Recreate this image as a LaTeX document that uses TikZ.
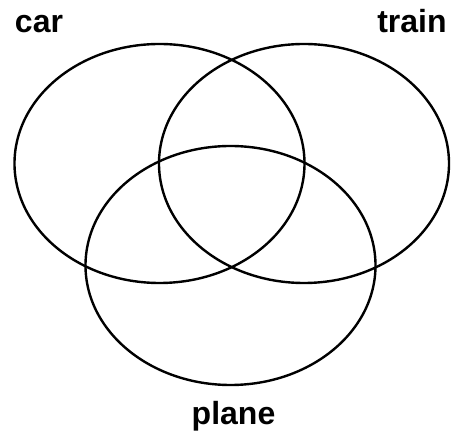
\documentclass[tikz,border=0pt]{standalone}
\usepackage{fontspec}
\setmainfont{Liberation Sans}

\begin{document}
\begin{tikzpicture}[x=1pt, y=1pt,
    setline/.style={black, line width=2.4pt},
    setlabel/.style={font=\fontsize{32}{38}\selectfont\bfseries, anchor=base, inner sep=0pt}]
    \useasboundingbox (0,0) rectangle (454,435);

    % Set centres
    \coordinate (carc) at (159.5,271.5);
    \coordinate (trainc) at (304,271.5);
    \coordinate (planec) at (230.5,169.5);

    % The three sets
    \draw[setline] (carc) ellipse (145 and 119.5);
    \draw[setline] (trainc) ellipse (145 and 119.5);
    \draw[setline] (planec) ellipse (145 and 119.5);

    % Labels
    \node[setlabel] (carlabel) at (39,402) {car};
    \node[setlabel] (trainlabel) at (412,402) {train};
    \node[setlabel] (planelabel) at (233.5,10) {plane};
\end{tikzpicture}
\end{document}
